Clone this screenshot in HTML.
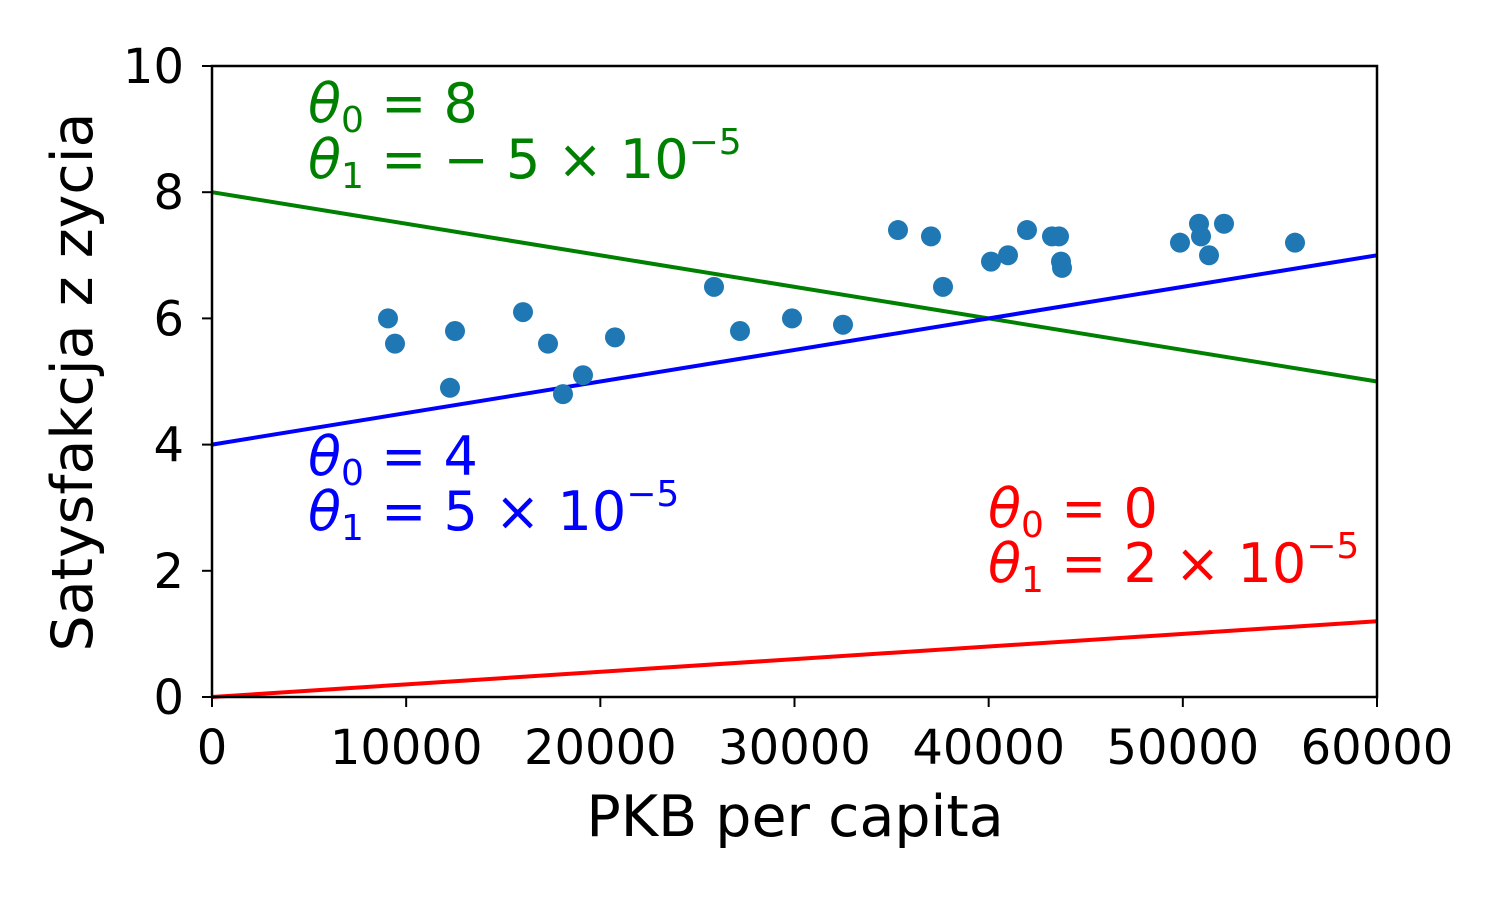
<!DOCTYPE html>
<html><head><meta charset="utf-8"><style>
body{margin:0;background:#fff}
svg{display:block;font-family:"DejaVu Sans","Liberation Sans",sans-serif}
</style></head><body>
<svg id="chart" width="1500" height="900">
<g id="plot"></g>
<rect x="212" y="66" width="1165" height="631" fill="none" stroke="#000" stroke-width="2.5"/>
<g id="axes" font-size="48"></g>
<text x="795" y="836" font-size="57" text-anchor="middle">PKB per capita</text>
<text transform="translate(92,382) rotate(-90)" font-size="57" text-anchor="middle">Satysfakcja z zycia</text>
<g font-size="54">
<text x="308" y="122" fill="green"><tspan font-style="italic">θ</tspan><tspan font-size="36" dy="10">0</tspan><tspan dy="-10"> = 8</tspan></text>
<text x="308" y="178" fill="green"><tspan font-style="italic">θ</tspan><tspan font-size="36" dy="10">1</tspan><tspan dy="-10"> = − 5 × 10</tspan><tspan font-size="36" dy="-24">−5</tspan></text>
<text x="308" y="475" fill="blue"><tspan font-style="italic">θ</tspan><tspan font-size="36" dy="10">0</tspan><tspan dy="-10"> = 4</tspan></text>
<text x="308" y="530" fill="blue"><tspan font-style="italic">θ</tspan><tspan font-size="36" dy="10">1</tspan><tspan dy="-10"> = 5 × 10</tspan><tspan font-size="36" dy="-24">−5</tspan></text>
<text x="988" y="527" fill="red"><tspan font-style="italic">θ</tspan><tspan font-size="36" dy="10">0</tspan><tspan dy="-10"> = 0</tspan></text>
<text x="988" y="582" fill="red"><tspan font-style="italic">θ</tspan><tspan font-size="36" dy="10">1</tspan><tspan dy="-10"> = 2 × 10</tspan><tspan font-size="36" dy="-24">−5</tspan></text>
</g>
</svg>
<script>
const gdpValues=[9064,9425,12257,12515,16017,17305,18077,19107,20755,25854,27193,29871,32498,35330,37030,37648,40120,40996,41974,43262,43622,43725,43777,49854,50833,50936,51348,52120,55777];
const satisfactionValues=[6.0,5.6,4.9,5.8,6.1,5.6,4.8,5.1,5.7,6.5,5.8,6.0,5.9,7.4,7.3,6.5,6.9,7.0,7.4,7.3,7.3,6.9,6.8,7.2,7.5,7.3,7.0,7.5,7.2];
const xTicks=[0,10000,20000,30000,40000,50000,60000];
const yTicks=[0,2,4,6,8,10];
const lineTheta0=[8,4,0];
const lineTheta1=[-5e-5,5e-5,2e-5];
const lineColors=['green','blue','red'];
const lineNames=['green-line','blue-line','red-line'];
const NS='http://www.w3.org/2000/svg';
const X=v=>212+v/60000*1165, Y=v=>697-v/10*631;
const plot=document.getElementById('plot'), axes=document.getElementById('axes');
function mk(p,t,a){const e=document.createElementNS(NS,t);for(const k in a)e.setAttribute(k,a[k]);p.appendChild(e);return e;}
for(let i=0;i<3;i++){
 const l=mk(plot,'line',{x1:X(0),y1:Y(lineTheta0[i]),x2:X(60000),y2:Y(lineTheta0[i]+lineTheta1[i]*60000),stroke:lineColors[i],'stroke-width':4});
 
 
}
gdpValues.forEach((g,i)=>{
 const c=mk(plot,'circle',{cx:X(g),cy:Y(satisfactionValues[i]),r:10,fill:'#1f77b4'});
 
 
});
xTicks.forEach(t=>{
 const tk=mk(axes,'line',{x1:X(t),x2:X(t),y1:697,y2:707,stroke:'#000','stroke-width':2});
 
 
 const tx=mk(axes,'text',{x:X(t),y:764,'text-anchor':'middle'});tx.textContent=t;
 
 
});
yTicks.forEach(t=>{
 const tk=mk(axes,'line',{x1:202,x2:212,y1:Y(t),y2:Y(t),stroke:'#000','stroke-width':2});
 
 
 const tx=mk(axes,'text',{x:184,y:Y(t)+17,'text-anchor':'end'});tx.textContent=t;
 
 
});
</script>
</body></html>
